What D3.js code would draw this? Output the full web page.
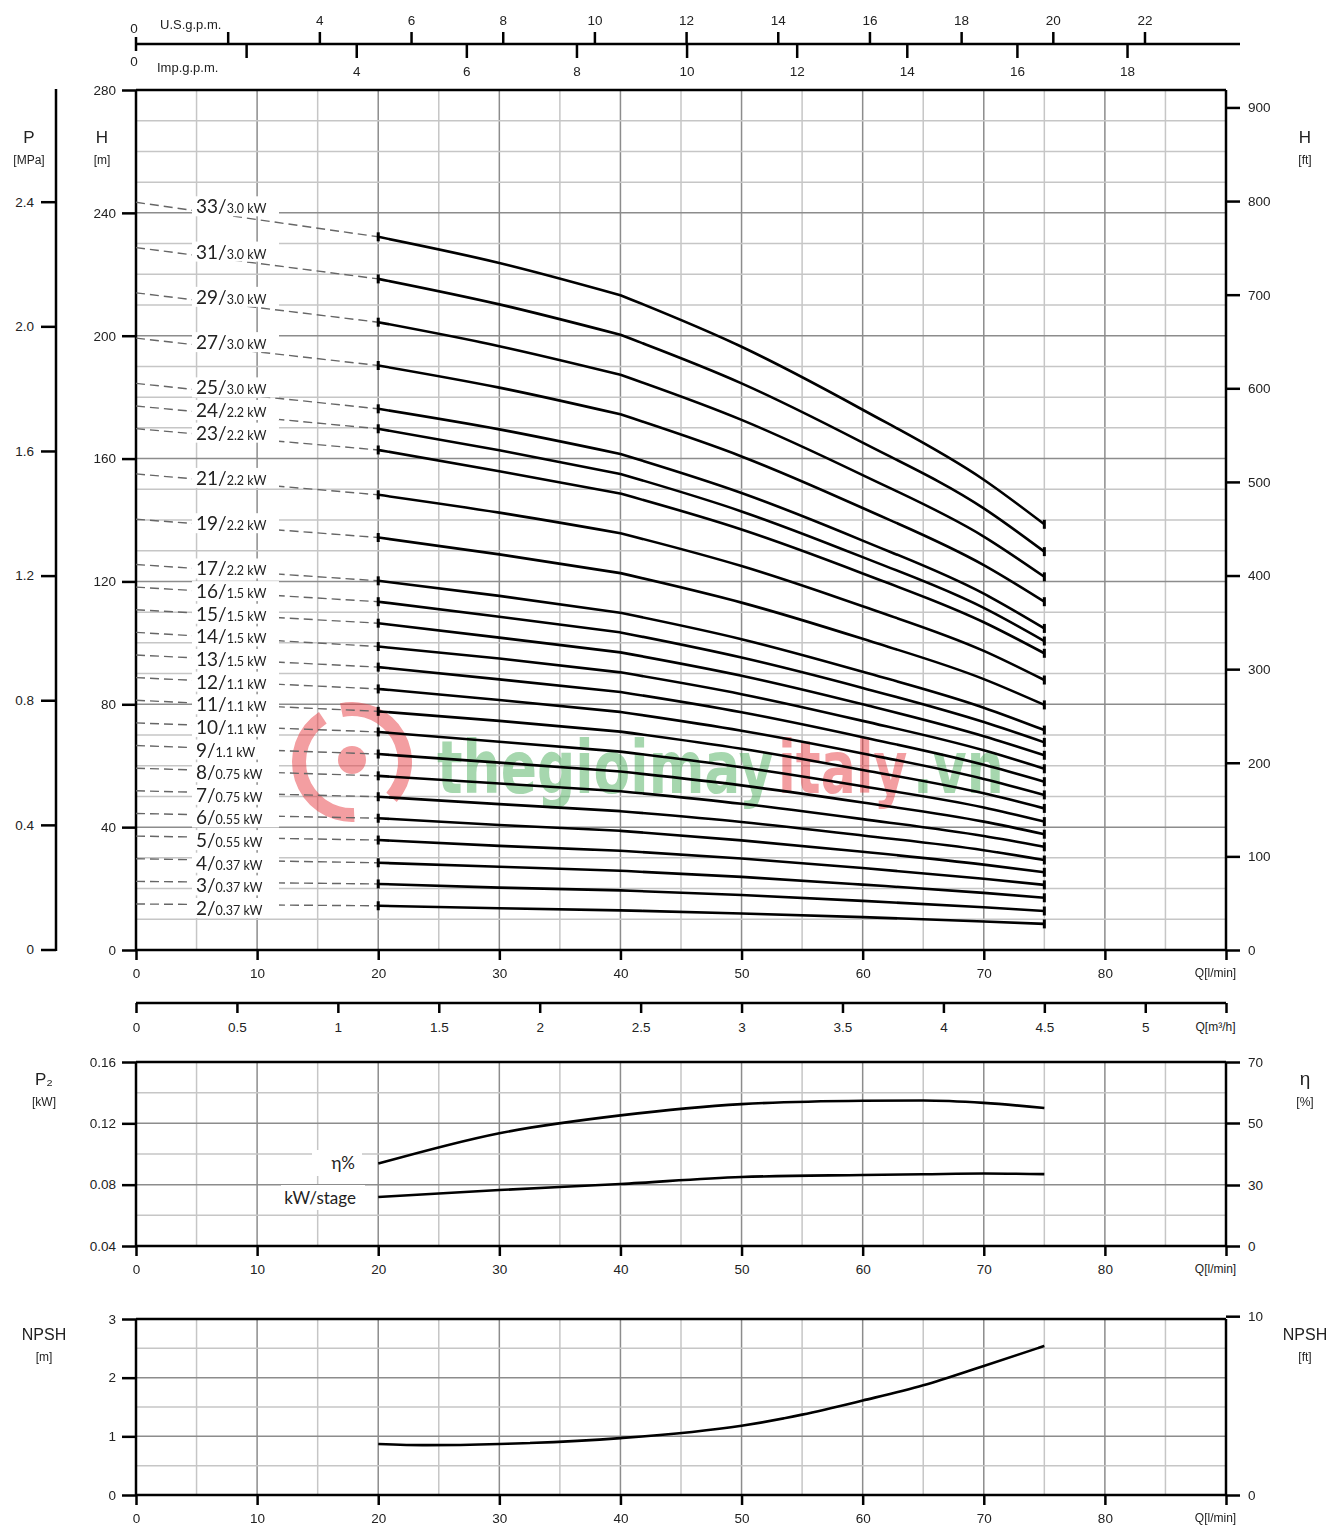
<!DOCTYPE html>
<html>
<head>
<meta charset="utf-8">
<script src="https://cdn.jsdelivr.net/npm/d3@7"></script>
<style>
  body { margin: 0; background: #fff; }
  svg text { font-family: "Liberation Sans Narrow", "Arial Narrow", "Liberation Sans", sans-serif; fill: #222; }
  svg text.lbl { font-family: Lato, "Open Sans", sans-serif; }
</style>
</head>
<body>
<div id="chart"></div>
<script>
// flow points where the head curves are read (l/min)
const flowQ = [20, 30, 40, 50, 60, 70, 75];

const stageCounts = [33, 31, 29, 27, 25, 24, 23, 21, 19, 17, 16, 15, 14, 13, 12, 11, 10, 9, 8, 7, 6, 5, 4, 3, 2];
const motorKw = ["3.0", "3.0", "3.0", "3.0", "3.0", "2.2", "2.2", "2.2", "2.2", "2.2",
  "1.5", "1.5", "1.5", "1.5", "1.1", "1.1", "1.1", "1.1", "0.75", "0.75",
  "0.55", "0.55", "0.37", "0.37", "0.37"];

// head in m at flowQ, one row per stage count
const headCurves = [
  [232.2, 223.7, 213.2, 196.4, 175.9, 153.1, 138.6],
  [218.5, 210.2, 200.3, 184.5, 165.2, 143.8, 129.7],
  [204.4, 196.6, 187.3, 172.6, 154.6, 134.6, 121.5],
  [190.3, 183.1, 174.4, 160.7, 143.9, 125.3, 113.4],
  [176.2, 169.5, 161.5, 148.8, 133.3, 116.0, 104.7],
  [169.7, 162.7, 155.0, 142.8, 127.9, 111.4, 100.6],
  [162.8, 155.9, 148.6, 136.9, 122.6, 106.7, 96.6],
  [148.2, 142.4, 135.7, 125.0, 111.9, 97.4, 87.9],
  [134.3, 128.8, 122.7, 113.1, 101.3, 88.2, 79.8],
  [120.2, 115.3, 109.8, 101.2, 90.6, 78.9, 71.6],
  [113.4, 108.5, 103.4, 95.2, 85.3, 74.2, 67.6],
  [106.4, 101.7, 96.9, 89.3, 80.0, 69.6, 63.4],
  [98.8, 94.9, 90.4, 83.3, 74.6, 65.0, 59.0],
  [92.1, 88.1, 84.0, 77.4, 69.3, 60.3, 54.8],
  [85.0, 81.4, 77.5, 71.4, 64.0, 55.7, 50.5],
  [77.7, 74.6, 71.1, 65.5, 58.6, 51.0, 46.1],
  [71.0, 67.8, 64.6, 59.5, 53.3, 46.4, 41.8],
  [63.8, 61.0, 58.1, 53.6, 48.0, 41.8, 37.7],
  [56.7, 54.2, 51.7, 47.6, 42.6, 37.1, 33.6],
  [49.9, 47.5, 45.2, 41.7, 37.3, 32.5, 29.3],
  [42.9, 40.7, 38.8, 35.7, 32.0, 27.8, 25.3],
  [35.8, 33.9, 32.3, 29.8, 26.7, 23.2, 21.2],
  [28.4, 27.1, 25.8, 23.8, 21.3, 18.6, 17.0],
  [21.5, 20.3, 19.4, 17.9, 16.0, 13.9, 12.7],
  [14.4, 13.6, 12.9, 11.9, 10.7, 9.3, 8.5]
];

// efficiency and power per stage
const perfQ = [20, 30, 40, 50, 60, 65, 70, 75];
const etaPct = [36.9, 46.7, 52.5, 56.2, 57.3, 57.4, 56.6, 54.9];
const kwStage = [0.072, 0.0765, 0.0804, 0.0850, 0.0863, 0.0868, 0.0873, 0.0869];

const npshQ = [20, 24, 30, 40, 50, 55, 60, 65, 70, 75];
const npshM = [0.87, 0.85, 0.87, 0.97, 1.18, 1.37, 1.61, 1.87, 2.2, 2.54];

// tick labels
const qTicks = [0, 10, 20, 30, 40, 50, 60, 70, 80];
const m3hTicks = [0, 0.5, 1, 1.5, 2, 2.5, 3, 3.5, 4, 4.5, 5];
const usGpmTicks = [2, 4, 6, 8, 10, 12, 14, 16, 18, 20, 22];
const impGpmTicks = [2, 4, 6, 8, 10, 12, 14, 16, 18];
const headMTicks = [0, 40, 80, 120, 160, 200, 240, 280];
const headFtTicks = [0, 100, 200, 300, 400, 500, 600, 700, 800, 900];
const pressTicks = [0, 0.4, 0.8, 1.2, 1.6, 2.0, 2.4];
const p2Ticks = [0.04, 0.08, 0.12, 0.16];
const etaTicks = [0, 30, 50, 70];
const npshTicks = [0, 1, 2, 3];
const npshFtTicks = [0, 10];

const W = 1329, H = 1527;
const MAJOR = "#8c8c8c", MINOR = "#c6c6c6";

const svg = d3.select("#chart").append("svg")
  .attr("width", W).attr("height", H);

const x = d3.scaleLinear().domain([0, 90]).range([136, 1226]);
const yH = d3.scaleLinear().domain([0, 280]).range([950, 90]);
const yFt = d3.scaleLinear().domain([0, 280 / 0.3048]).range([950, 90]);
const yP = d3.scaleLinear().domain([0, 2.4]).range([949.5, 201.7]);
const xUs = d3.scaleLinear().domain([0, 90 / 3.785]).range([136, 1226]);
const xImp = d3.scaleLinear().domain([0, 90 / 4.546]).range([136, 1226]);
const xM3 = d3.scaleLinear().domain([0, 5.4]).range([136, 1226]);
const yP2 = d3.scaleLinear().domain([0.04, 0.16]).range([1246, 1062]);
const yEta = d3.scaleLinear().domain([0, 30, 50, 70]).range([1246, 1185, 1123, 1062]);
const yN = d3.scaleLinear().domain([0, 3]).range([1495, 1319]);
const yNft = d3.scaleLinear().domain([0, 3 / 0.3048]).range([1495, 1319]);

function grid(yScale, hVals, hMajor, yTop, yBot) {
  const g = svg.append("g");
  g.selectAll(".v").data(d3.range(5, 90, 5)).join("line")
    .attr("x1", d => x(d)).attr("x2", d => x(d))
    .attr("y1", yTop).attr("y2", yBot)
    .attr("stroke", d => d % 10 === 0 ? MAJOR : MINOR)
    .attr("stroke-width", 1.5);
  g.selectAll(".h").data(hVals).join("line")
    .attr("x1", x(0)).attr("x2", x(90))
    .attr("y1", d => yScale(d)).attr("y2", d => yScale(d))
    .attr("stroke", d => hMajor.includes(d) ? MAJOR : MINOR)
    .attr("stroke-width", 1.5);
}

function frame(yTop, yBot) {
  const g = svg.append("g").attr("stroke", "#000").attr("stroke-width", 2.5);
  g.append("line").attr("x1", x(0)).attr("x2", x(90)).attr("y1", yTop).attr("y2", yTop);
  g.append("line").attr("x1", x(0)).attr("x2", x(90)).attr("y1", yBot).attr("y2", yBot);
  g.append("line").attr("x1", x(0)).attr("x2", x(0)).attr("y1", yTop).attr("y2", yBot + 1);
  g.append("line").attr("x1", x(90)).attr("x2", x(90)).attr("y1", yTop).attr("y2", yBot + 1);
}

function styleAxis(g, size) {
  g.select(".domain").remove();
  g.selectAll(".tick line").attr("stroke", "#000").attr("stroke-width", 2.5);
  g.attr("font-size", size || 13.5).attr("font-family", null);
}

function qAxis(yPos) {
  const g = svg.append("g").attr("transform", `translate(0,${yPos})`)
    .call(d3.axisBottom(x).tickValues(qTicks.concat([90])).tickSize(10).tickPadding(8)
      .tickFormat(d => d === 90 ? "Q[l/min]" : d));
  styleAxis(g);
  g.selectAll(".tick text").filter(d => d === 90).attr("dx", -11).attr("font-size", 12);
  return g;
}

function title(xp, yp, main, unit, size) {
  svg.append("text").attr("x", xp).attr("y", yp).attr("text-anchor", "middle")
    .attr("font-size", size || 17).style("font-family", "'Liberation Sans', sans-serif").text(main);
  svg.append("text").attr("x", xp).attr("y", yp + 21).attr("text-anchor", "middle")
    .attr("font-size", 12).text(unit);
}

// ---------- main H-Q chart ----------
grid(yH, d3.range(10, 280, 10), [40, 80, 120, 160, 200, 240], 90, 950);

// watermark
const wm = svg.append("g").attr("opacity", 0.5);
const arc = d3.arc().innerRadius(46).outerRadius(60);
wm.append("path").attr("transform", "translate(352,762)")
  .attr("d", arc({ startAngle: -0.2, endAngle: 2.3 })).attr("fill", "#e63c42");
wm.append("path").attr("transform", "translate(352,762)")
  .attr("d", arc({ startAngle: 3.1, endAngle: 5.7 })).attr("fill", "#e63c42");
wm.append("circle").attr("cx", 352).attr("cy", 760).attr("r", 14).attr("fill", "#e63c42");
[["thegioimay", 437, "#4cae5c", 53.5], ["italy", 778, "#e63c42", 52], [".vn", 913, "#4cae5c", 52]]
  .forEach(([s, xs, col, fs]) => {
    wm.append("text").attr("transform", `translate(${xs},793) scale(1,${(73 / fs).toFixed(3)})`)
      .attr("font-size", fs).attr("font-weight", "bold")
      .style("font-family", "'DejaVu Sans', sans-serif").style("fill", col)
      .text(s);
  });

frame(90, 950);

// left end of each leader line follows the stage count
const leaderY = d3.scaleLinear().domain([2, 33]).range([904, 202.3]);

const leaders = svg.append("g");
stageCounts.forEach((n, i) => {
  leaders.append("line")
    .attr("x1", x(0)).attr("y1", leaderY(n))
    .attr("x2", x(flowQ[0])).attr("y2", yH(headCurves[i][0]))
    .attr("stroke", "#666").attr("stroke-width", 1.4).attr("stroke-dasharray", "9,5");
});

const labels = svg.append("g");
stageCounts.forEach((n, i) => {
  const yl = leaderY(n);
  labels.append("rect").attr("x", 192).attr("y", yl - 6).attr("width", 87).attr("height", 20)
    .attr("fill", "#fff");
  const t = labels.append("text").attr("class", "lbl").attr("x", 196).attr("y", yl + 11);
  t.append("tspan").attr("font-size", 19).text(n + "/");
  t.append("tspan").attr("font-size", 12.5).text(motorKw[i] + " kW");
});

const line = d3.line().x(d => x(d[0])).y(d => yH(d[1])).curve(d3.curveMonotoneX);
const curves = svg.append("g");
headCurves.forEach(row => {
  const pts = flowQ.map((q, j) => [q, row[j]]);
  curves.append("path")
    .attr("d", line(pts.slice(0, 3)) + line(pts.slice(2)))
    .attr("fill", "none").attr("stroke", "#000").attr("stroke-width", 2.6)
    .attr("stroke-linejoin", "round");
  [pts[0], pts[pts.length - 1]].forEach(p => {
    curves.append("line").attr("x1", x(p[0])).attr("x2", x(p[0]))
      .attr("y1", yH(p[1]) - 4.5).attr("y2", yH(p[1]) + 4.5)
      .attr("stroke", "#000").attr("stroke-width", 3);
  });
});

// axes of main chart
styleAxis(svg.append("g").attr("transform", `translate(${x(0)},0)`)
  .call(d3.axisLeft(yH).tickValues(headMTicks).tickSize(14).tickPadding(6)));
styleAxis(svg.append("g").attr("transform", `translate(${x(90)},0)`)
  .call(d3.axisRight(yFt).tickValues(headFtTicks).tickSize(14).tickPadding(8)));
const pAx = svg.append("g").attr("transform", "translate(56,0)")
  .call(d3.axisLeft(yP).tickValues(pressTicks).tickSize(15).tickPadding(7)
    .tickFormat(d => d === 0 ? "0" : d3.format(".1f")(d)));
styleAxis(pAx);
svg.append("line").attr("x1", 56).attr("x2", 56).attr("y1", 89).attr("y2", 951)
  .attr("stroke", "#000").attr("stroke-width", 2.5);
qAxis(950);

title(29, 143, "P", "[MPa]");
title(102, 143, "H", "[m]");
title(1305, 143, "H", "[ft]");

// top gpm axes
const topG = svg.append("g");
topG.append("line").attr("x1", 135).attr("x2", 1240).attr("y1", 44).attr("y2", 44)
  .attr("stroke", "#000").attr("stroke-width", 2.5);
topG.append("line").attr("x1", 136).attr("x2", 136).attr("y1", 37).attr("y2", 51)
  .attr("stroke", "#000").attr("stroke-width", 2.5);
styleAxis(svg.append("g").attr("transform", "translate(0,44)")
  .call(d3.axisTop(xUs).tickValues(usGpmTicks).tickSize(12).tickPadding(7)
    .tickFormat(d => d === 2 ? "" : d)));
styleAxis(svg.append("g").attr("transform", "translate(0,44)")
  .call(d3.axisBottom(xImp).tickValues(impGpmTicks).tickSize(14).tickPadding(8)
    .tickFormat(d => d === 2 ? "" : d)));
topG.append("text").attr("x", 134).attr("y", 33).attr("text-anchor", "middle").attr("font-size", 13.5).text("0");
topG.append("text").attr("x", 134).attr("y", 66).attr("text-anchor", "middle").attr("font-size", 13.5).text("0");
topG.append("text").attr("x", 160).attr("y", 29).attr("font-size", 13).text("U.S.g.p.m.");
topG.append("text").attr("x", 157).attr("y", 72).attr("font-size", 13).text("Imp.g.p.m.");

// m3/h axis
svg.append("line").attr("x1", x(0)).attr("x2", x(90)).attr("y1", 1003).attr("y2", 1003)
  .attr("stroke", "#000").attr("stroke-width", 2.5);
const m3Ax = svg.append("g").attr("transform", "translate(0,1003)")
  .call(d3.axisBottom(xM3).tickValues(m3hTicks.concat([5.4])).tickSize(10).tickPadding(9)
    .tickFormat(d => d === 5.4 ? "Q[m³/h]" : d));
styleAxis(m3Ax);
m3Ax.selectAll(".tick text").filter(d => d === 5.4).attr("dx", -11).attr("font-size", 12);

// ---------- P2 / efficiency chart ----------
grid(yP2, [0.06, 0.08, 0.10, 0.12, 0.14], [0.08, 0.12], 1062, 1246);
frame(1062, 1246);

svg.append("rect").attr("x", 312).attr("y", 1150).attr("width", 50).attr("height", 26).attr("fill", "#fff");
svg.append("rect").attr("x", 281).attr("y", 1185).attr("width", 84).attr("height", 25).attr("fill", "#fff");
svg.append("text").attr("class", "lbl").attr("x", 355).attr("y", 1169).attr("text-anchor", "end")
  .attr("font-size", 17).text("η%");
svg.append("text").attr("class", "lbl").attr("x", 356).attr("y", 1204).attr("text-anchor", "end")
  .attr("font-size", 17).text("kW/stage");

const etaLine = d3.line().x((d, i) => x(perfQ[i])).y(d => yEta(d)).curve(d3.curveMonotoneX);
const kwLine = d3.line().x((d, i) => x(perfQ[i])).y(d => yP2(d)).curve(d3.curveMonotoneX);
svg.append("path").attr("d", etaLine(etaPct)).attr("fill", "none").attr("stroke", "#000").attr("stroke-width", 2.6);
svg.append("path").attr("d", kwLine(kwStage)).attr("fill", "none").attr("stroke", "#000").attr("stroke-width", 2.6);

styleAxis(svg.append("g").attr("transform", `translate(${x(0)},0)`)
  .call(d3.axisLeft(yP2).tickValues(p2Ticks).tickSize(14).tickPadding(6).tickFormat(d3.format(".2f"))));
styleAxis(svg.append("g").attr("transform", `translate(${x(90)},0)`)
  .call(d3.axisRight(yEta).tickValues(etaTicks).tickSize(14).tickPadding(8).tickFormat(d3.format("d"))));
qAxis(1246);
title(44, 1085, "P₂", "[kW]");
title(1305, 1085, "η", "[%]", 19);

// ---------- NPSH chart ----------
grid(yN, [0.5, 1, 1.5, 2, 2.5], [1, 2], 1319, 1495);
frame(1319, 1495);
const npshLine = d3.line().x((d, i) => x(npshQ[i])).y(d => yN(d)).curve(d3.curveMonotoneX);
svg.append("path").attr("d", npshLine(npshM)).attr("fill", "none").attr("stroke", "#000").attr("stroke-width", 2.6);

styleAxis(svg.append("g").attr("transform", `translate(${x(0)},0)`)
  .call(d3.axisLeft(yN).tickValues(npshTicks).tickSize(14).tickPadding(6).tickFormat(d3.format("d"))));
styleAxis(svg.append("g").attr("transform", `translate(${x(90)},0)`)
  .call(d3.axisRight(yNft).tickValues(npshFtTicks).tickSize(14).tickPadding(8).tickFormat(d3.format("d"))));
qAxis(1495);
title(44, 1340, "NPSH", "[m]", 16);
title(1305, 1340, "NPSH", "[ft]", 16);
</script>
</body>
</html>
